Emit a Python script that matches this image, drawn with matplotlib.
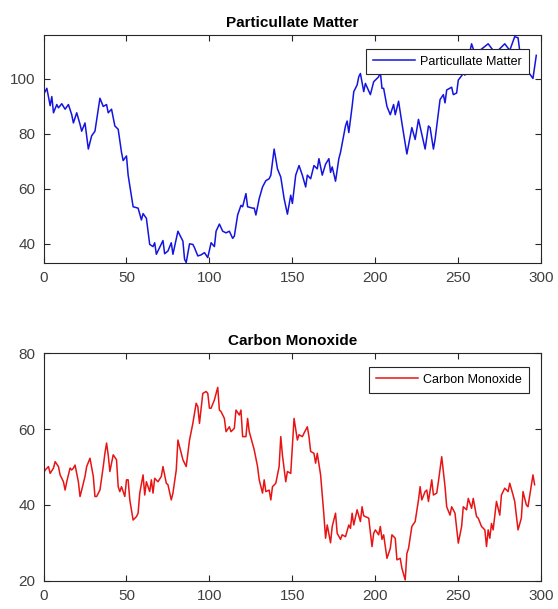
import matplotlib
matplotlib.use('Agg')
import matplotlib.pyplot as plt

plt.rcParams['font.family'] = ['Liberation Sans', 'DejaVu Sans']

# readings, sample index -> value
pm_x = [0, 2, 4, 5, 6, 8, 9, 11, 13, 15, 17, 18, 20, 22, 23, 25, 27, 29, 31, 34,
        36, 38, 39, 41, 43, 45, 47, 48, 50, 51, 54, 57, 59, 60, 62, 64, 66, 67, 68, 72,
        73, 75, 77, 78, 81, 84, 85, 86, 88, 90, 91, 93, 95, 97, 99, 101, 103, 104, 106, 108,
        110, 112, 114, 115, 117, 119, 120, 122, 123, 126, 127, 128, 130, 132, 134, 136, 137, 139, 141, 143,
        145, 147, 149, 150, 152, 154, 156, 158, 159, 161, 163, 165, 166, 168, 170, 172, 173, 174, 176, 178,
        179, 182, 183, 184, 186, 187, 189, 190, 191, 193, 194, 197, 199, 200, 202, 203, 204, 205, 207, 209,
        211, 212, 214, 216, 219, 222, 224, 226, 228, 230, 232, 233, 235, 236, 239, 241, 242, 243, 246, 247,
        249, 250, 253, 254, 258, 260, 263, 268, 271, 274, 278, 281, 284, 286, 287, 290, 295, 297]
pm_y = [94.3, 96.6, 90.3, 93.6, 87.7, 90.7, 89.5, 91.0, 89.0, 90.7, 87.0, 84.0, 87.7, 83.5, 81.0, 84.0, 74.5, 79.3, 81.0, 93.0,
        90.0, 90.7, 87.7, 89.0, 82.9, 81.7, 73.3, 70.3, 72.0, 65.0, 53.5, 53.0, 48.7, 51.0, 49.3, 39.8, 39.0, 40.4, 36.2, 41.2,
        36.4, 37.4, 40.4, 36.2, 44.6, 41.0, 34.4, 33.2, 40.0, 39.8, 38.6, 35.6, 36.0, 36.8, 35.0, 40.4, 39.0, 44.6, 47.2, 44.6,
        44.0, 44.6, 42.0, 42.8, 50.5, 54.0, 53.5, 58.3, 53.5, 53.0, 53.0, 50.5, 56.5, 60.7, 63.0, 63.7, 65.0, 74.5, 67.3, 64.3,
        56.5, 50.8, 57.7, 54.7, 65.0, 68.5, 65.0, 60.7, 65.0, 63.7, 68.5, 67.3, 71.0, 65.0, 69.0, 71.0, 66.0, 68.0, 62.8, 71.0,
        73.3, 82.9, 84.7, 80.5, 90.0, 95.4, 97.8, 100.8, 102.0, 95.4, 98.4, 94.3, 99.0, 99.6, 100.8, 102.6, 96.6, 96.6, 90.0, 87.0,
        90.7, 87.0, 91.9, 84.0, 72.7, 82.3, 78.0, 85.3, 79.9, 74.5, 82.9, 82.3, 74.5, 78.0, 92.5, 94.3, 91.3, 96.0, 97.0, 94.3,
        94.9, 99.6, 102.0, 101.4, 112.8, 109.2, 110.4, 112.8, 110.4, 110.4, 112.8, 110.4, 115.4, 115.0, 110.4, 104.4, 100.2, 108.6]

co_x = [0, 1, 3, 4, 6, 7, 9, 10, 12, 13, 14, 16, 17, 18, 19, 21, 22, 23, 25, 26,
        28, 30, 31, 32, 34, 36, 37, 38, 39, 40, 42, 44, 45, 46, 47, 49, 50, 51, 52, 54,
        56, 57, 58, 60, 61, 62, 64, 65, 66, 67, 69, 71, 72, 74, 75, 77, 78, 80, 81, 82,
        84, 85, 86, 88, 90, 92, 93, 94, 96, 98, 99, 100, 101, 103, 104, 105, 106, 107, 109, 110,
        112, 113, 115, 116, 118, 119, 120, 122, 123, 124, 127, 129, 130, 132, 133, 134, 136, 137, 138, 140,
        142, 143, 144, 146, 147, 149, 150, 151, 153, 154, 156, 157, 159, 160, 161, 163, 164, 165, 167, 169,
        170, 171, 173, 174, 176, 177, 179, 180, 182, 184, 185, 186, 187, 189, 191, 192, 193, 196, 198, 199,
        200, 202, 203, 204, 205, 207, 209, 210, 212, 213, 215, 216, 218, 219, 220, 222, 224, 226, 227, 228,
        230, 231, 232, 234, 235, 237, 238, 240, 242, 243, 245, 246, 248, 250, 252, 253, 255, 256, 258, 259,
        261, 262, 264, 266, 267, 268, 269, 270, 271, 273, 275, 276, 278, 280, 281, 283, 284, 286, 288, 289,
        291, 292, 295, 296]
co_y = [48.3, 49.2, 50.1, 48.3, 49.7, 51.4, 50.1, 47.9, 46.1, 43.9, 46.1, 49.7, 49.2, 49.7, 50.5, 46.1, 42.2, 43.9, 47.5, 50.1,
        52.3, 47.5, 42.2, 42.2, 43.9, 50.1, 53.6, 56.3, 53.1, 48.8, 53.2, 51.9, 44.8, 43.5, 44.8, 42.2, 46.6, 46.6, 41.3, 36.0,
        36.9, 37.8, 43.1, 47.9, 42.6, 46.1, 43.5, 46.6, 43.1, 47.0, 46.1, 47.5, 50.1, 45.7, 45.3, 41.3, 43.1, 49.2, 57.1, 55.4,
        51.9, 51.0, 50.1, 57.1, 61.5, 66.8, 65.9, 61.5, 69.4, 69.9, 69.4, 65.5, 65.5, 67.7, 69.4, 71.0, 65.0, 64.6, 62.8, 59.3,
        60.6, 59.3, 60.2, 65.0, 63.7, 65.0, 58.0, 58.0, 62.8, 59.3, 54.5, 50.1, 46.6, 43.1, 46.6, 43.5, 43.9, 41.3, 44.8, 45.7,
        50.1, 58.0, 53.1, 46.1, 48.8, 48.3, 55.4, 62.8, 57.1, 58.5, 58.0, 58.9, 60.6, 58.0, 54.1, 53.6, 51.0, 53.6, 47.9, 37.3,
        31.2, 34.7, 30.0, 34.3, 37.8, 32.5, 30.9, 32.1, 31.6, 34.7, 33.8, 37.8, 34.7, 38.7, 35.6, 39.5, 37.1, 36.5, 29.0, 32.5,
        33.4, 32.1, 34.3, 30.9, 32.1, 25.9, 28.5, 32.1, 31.2, 25.5, 25.9, 23.3, 20.2, 27.2, 28.5, 34.3, 35.6, 41.3, 44.8, 41.3,
        43.5, 43.9, 40.9, 46.6, 42.6, 43.1, 46.1, 52.7, 44.8, 39.5, 37.3, 39.5, 37.8, 29.9, 34.3, 39.5, 38.7, 41.7, 39.1, 41.7,
        36.9, 36.5, 34.3, 33.4, 29.0, 33.4, 31.2, 35.1, 33.4, 40.9, 37.3, 42.6, 44.4, 43.5, 45.7, 42.6, 40.9, 33.4, 36.5, 43.5,
        40.0, 39.5, 47.9, 45.3]

fig = plt.figure(figsize=(5.58, 6.09), dpi=100)
ax1 = fig.add_axes([0.078, 0.568, 0.892, 0.3745])
ax2 = fig.add_axes([0.078, 0.0465, 0.892, 0.3735])

ax1.plot(pm_x, pm_y, color='#1414e0', lw=1.1, label='Particullate Matter')
ax1.set_xlim(0, 300)
ax1.set_ylim(33, 116)
ax1.set_yticks([40, 60, 80, 100])
ax1.set_title('Particullate Matter', fontsize=11, fontweight='bold', pad=6)

ax2.plot(co_x, co_y, color='#e81414', lw=1.1, label='Carbon Monoxide')
ax2.set_xlim(0, 300)
ax2.set_ylim(20, 80)
ax2.set_yticks([20, 40, 60, 80])
ax2.set_title('Carbon Monoxide', fontsize=11, fontweight='bold', pad=6)

for ax in (ax1, ax2):
    ax.set_xticks([0, 50, 100, 150, 200, 250, 300])
    ax.tick_params(direction='in', top=True, right=True, length=4, width=0.8,
                   colors='#262626', labelsize=11, labelcolor='#404040', pad=6)
    for s in ax.spines.values():
        s.set_color('#262626')
        s.set_linewidth(0.8)
    leg = ax.legend(loc='upper right', fontsize=9, fancybox=False, framealpha=1,
                    borderpad=0.55, handlelength=3.4, handletextpad=0.4,
                    borderaxespad=0, bbox_to_anchor=(0.975, 0.94))
    leg.get_frame().set_edgecolor('#262626')
    leg.get_frame().set_linewidth(0.8)

fig.savefig('out.png', dpi=100)
